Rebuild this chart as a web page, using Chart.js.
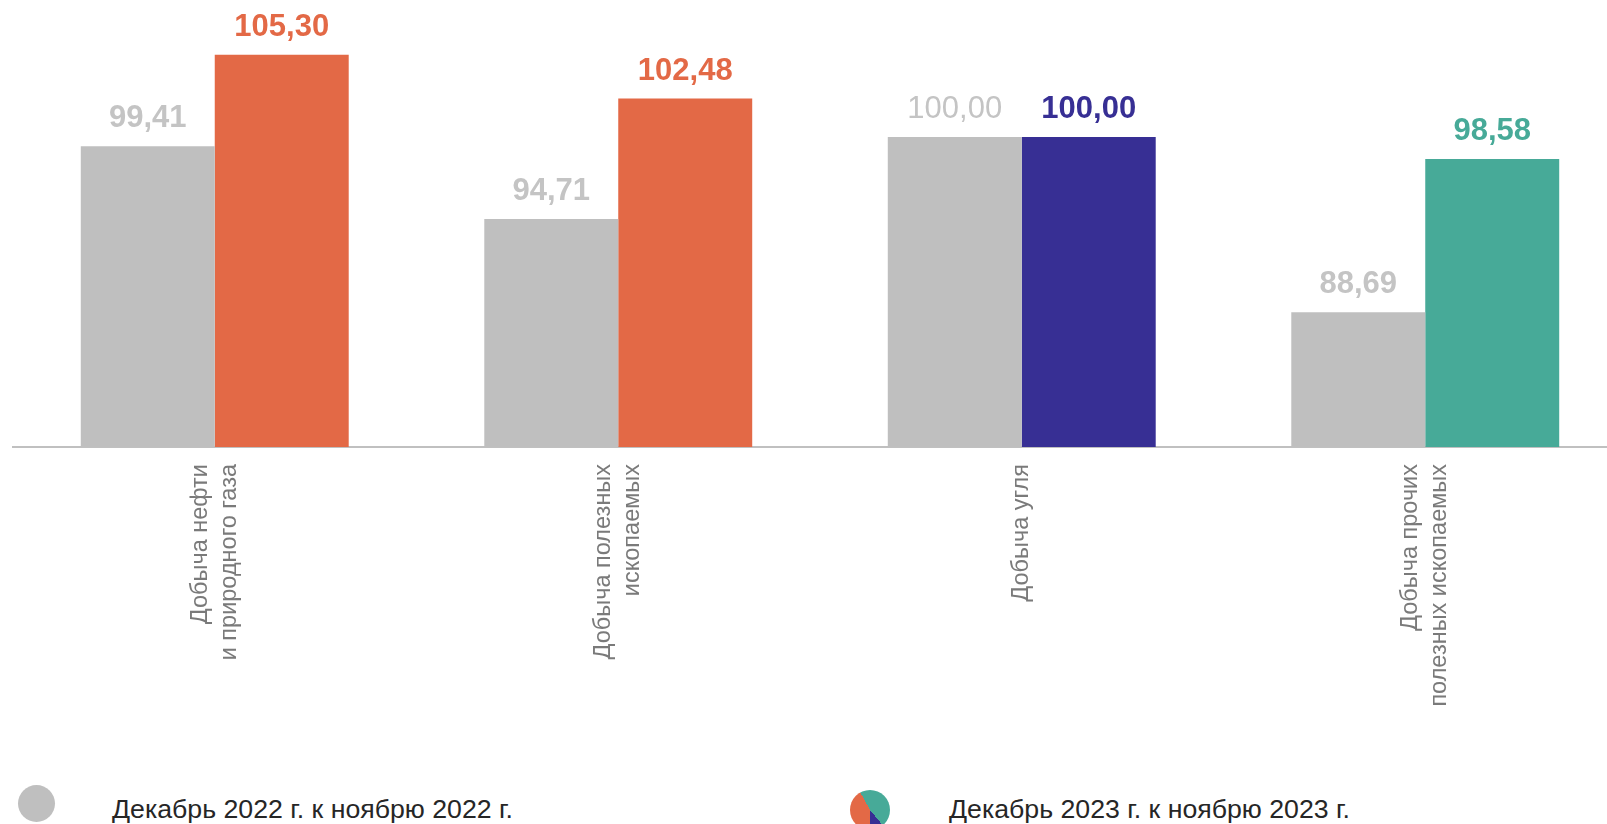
<!DOCTYPE html>
<html>
<head>
<meta charset="utf-8">
<script src="https://cdn.jsdelivr.net/npm/chart.js@4/dist/chart.umd.min.js"></script>
<style>
  html, body { margin: 0; padding: 0; background: #ffffff; overflow: hidden; width: 1607px; height: 824px; }
  #wrap { position: absolute; left: 0; top: 0; width: 1630px; height: 760px; }
  canvas { display: block; }
  .leg-icon { position: absolute; border-radius: 50%; }
  .leg-text { position: absolute; font-family: "Liberation Sans", Arial, sans-serif; font-size: 26.7px; line-height: 26px; color: #262626; white-space: nowrap; }
</style>
</head>
<body>
<div id="wrap"><canvas id="c" width="1630" height="760"></canvas></div>
<div class="leg-icon" style="left:18px; top:785px; width:37px; height:37px; background:#bfbfbf;"></div>
<div class="leg-text" id="leg1" style="left:112px; top:796px;"></div>
<div class="leg-icon" style="left:850px; top:790px; width:40px; height:40px; background:conic-gradient(from 331deg, #47aa98 0deg 169deg, #372f94 169deg 209deg, #e36946 209deg 360deg);"></div>
<div class="leg-text" id="leg2" style="left:949px; top:796px;"></div>
<script>
const categories = [
  ["Добыча нефти", "и природного газа"],
  ["Добыча полезных", "ископаемых"],
  "Добыча угля",
  ["Добыча прочих", "полезных ископаемых"]
];
const dec2022 = [99.41, 94.71, 100.00, 88.69];
const dec2023 = [105.30, 102.48, 100.00, 98.58];
const seriesNames = ["Декабрь 2022 г. к ноябрю 2022 г.", "Декабрь 2023 г. к ноябрю 2023 г."];

const grayColor = '#bfbfbf';
const grayLabelColor = '#c4c4c4';
const colors2023 = ['#e36946', '#e36946', '#372f94', '#47aa98'];
const grayLabelWeights = ['bold', 'bold', 'normal', 'bold'];

const tickFontSize = 23.5;
const tickLineHeight = 1.25;

document.getElementById('leg1').textContent = seriesNames[0];
document.getElementById('leg2').textContent = seriesNames[1];

function fmt(v) { return v.toFixed(2).replace('.', ','); }

const valueLabels = {
  id: 'valueLabels',
  afterDatasetsDraw(chart) {
    const ctx = chart.ctx;
    chart.data.datasets.forEach((ds, di) => {
      const meta = chart.getDatasetMeta(di);
      meta.data.forEach((bar, i) => {
        ctx.save();
        const w = di === 0 ? grayLabelWeights[i] : 'bold';
        ctx.font = w + ' 31px "Liberation Sans", Arial, sans-serif';
        ctx.fillStyle = di === 0 ? grayLabelColor : colors2023[i];
        ctx.textAlign = 'center';
        ctx.textBaseline = 'alphabetic';
        ctx.fillText(fmt(ds.data[i]), bar.x, bar.y - 19);
        ctx.restore();
      });
    });
  }
};

new Chart(document.getElementById('c'), {
  type: 'bar',
  data: {
    labels: categories,
    datasets: [
      { label: seriesNames[0], data: dec2022, backgroundColor: grayColor, borderWidth: 0,
        categoryPercentage: 0.664, barPercentage: 1.0 },
      { label: seriesNames[1], data: dec2023, backgroundColor: colors2023, borderWidth: 0,
        categoryPercentage: 0.664, barPercentage: 1.0 }
    ]
  },
  options: {
    responsive: false,
    animation: false,
    layout: { padding: { left: 13, right: 3, top: 13, bottom: 13 } },
    plugins: { legend: { display: false }, tooltip: { enabled: false } },
    scales: {
      x: {
        grid: { display: false },
        border: { display: true, color: '#c0c0c0', width: 2 },
        ticks: {
          autoSkip: false,
          minRotation: 90,
          maxRotation: 90,
          padding: 9,
          labelOffset: -(tickFontSize * tickLineHeight) / 2,
          showLabelBackdrop: (c) => !Array.isArray(categories[c.index]),
          backdropColor: 'rgba(0,0,0,0)',
          backdropPadding: 0,
          color: '#7a7a7a',
          font: { family: '"Liberation Sans", Arial, sans-serif', size: tickFontSize, lineHeight: tickLineHeight }
        },
        afterFit(scale) { scale.height = 300; }
      },
      y: {
        display: false,
        min: 80,
        max: 108
      }
    }
  },
  plugins: [valueLabels]
});
</script>
</body>
</html>
